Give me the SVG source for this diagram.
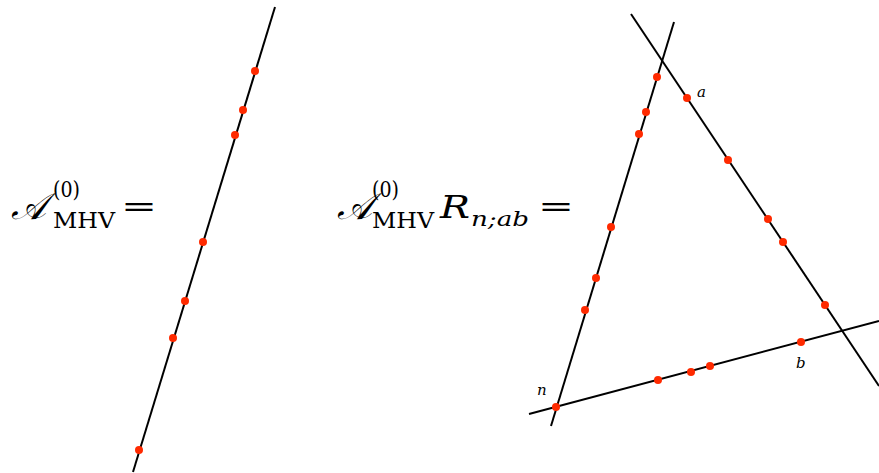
<svg xmlns="http://www.w3.org/2000/svg" width="879" height="473" viewBox="0 0 879 473">
<style>
.ln{stroke:#000;stroke-width:2;fill:none}
.dot{fill:#ff2a00}
.sf{font-family:"DejaVu Serif","Liberation Serif","Noto Serif",serif}
</style>
<rect width="879" height="473" fill="#fff"/>
<g id="formula-left" class="sf" fill="#000">
<text x="11" y="219" font-size="37" font-style="italic">𝒜</text>
<text x="53" y="197" font-size="22" textLength="27" lengthAdjust="spacingAndGlyphs">(0)</text>
<text x="53" y="228" font-size="23" textLength="62" lengthAdjust="spacingAndGlyphs">MHV</text>
<text x="121" y="216" font-size="27" textLength="36" lengthAdjust="spacingAndGlyphs">=</text>
</g>
<g id="formula-right" class="sf" fill="#000">
<text x="337" y="219" font-size="37" font-style="italic">𝒜</text>
<text x="372" y="197" font-size="22" textLength="27" lengthAdjust="spacingAndGlyphs">(0)</text>
<text x="372" y="228" font-size="23" textLength="62" lengthAdjust="spacingAndGlyphs">MHV</text>
<text x="440" y="218" font-size="31" font-style="italic" textLength="30" lengthAdjust="spacingAndGlyphs">R</text>
<text x="471" y="226" font-size="20" font-style="italic" textLength="58" lengthAdjust="spacingAndGlyphs">n;ab</text>
<text x="538" y="216" font-size="27" textLength="36" lengthAdjust="spacingAndGlyphs">=</text>
</g>
<g id="connectors">
<line class="ln" x1="275" y1="7" x2="133" y2="472"/>
<line class="ln" x1="674" y1="22" x2="551" y2="426"/>
<line class="ln" x1="631" y1="14" x2="879" y2="386"/>
<line class="ln" x1="529" y1="414" x2="879" y2="321"/>
</g>
<g id="line-left-dots">
<circle class="dot" cx="255" cy="71" r="4"/>
<circle class="dot" cx="243" cy="110" r="4"/>
<circle class="dot" cx="235" cy="135" r="4"/>
<circle class="dot" cx="203" cy="242" r="4"/>
<circle class="dot" cx="185" cy="301" r="4"/>
<circle class="dot" cx="173" cy="338" r="4"/>
<circle class="dot" cx="139" cy="450" r="4"/>
</g>
<g id="triangle-dots">
<circle class="dot" cx="657" cy="77" r="4"/>
<circle class="dot" cx="646" cy="112" r="4"/>
<circle class="dot" cx="639" cy="134" r="4"/>
<circle class="dot" cx="611" cy="227" r="4"/>
<circle class="dot" cx="596" cy="278" r="4"/>
<circle class="dot" cx="585" cy="310" r="4"/>
<circle class="dot" cx="556" cy="407" r="4"/>
<circle class="dot" cx="687" cy="98" r="4"/>
<circle class="dot" cx="728" cy="160" r="4"/>
<circle class="dot" cx="768" cy="219" r="4"/>
<circle class="dot" cx="783" cy="242" r="4"/>
<circle class="dot" cx="825" cy="305" r="4"/>
<circle class="dot" cx="658" cy="380" r="4"/>
<circle class="dot" cx="691" cy="372" r="4"/>
<circle class="dot" cx="710" cy="366" r="4"/>
<circle class="dot" cx="801" cy="342" r="4"/>
</g>
<g id="labels" class="sf" font-style="italic" font-size="15" fill="#000">
<text x="697" y="97">a</text>
<text x="796" y="368">b</text>
<text x="537" y="395">n</text>
</g>
</svg>
